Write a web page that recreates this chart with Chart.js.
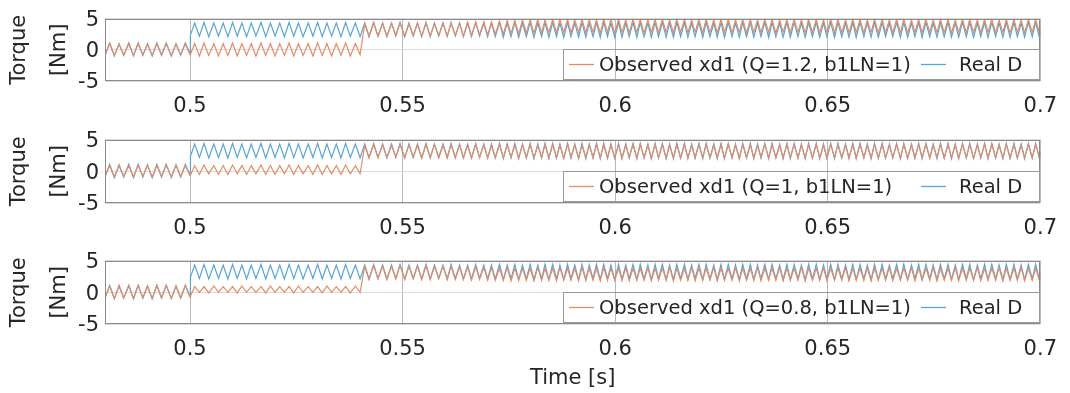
<!DOCTYPE html>
<html>
<head>
<meta charset="utf-8">
<title>Torque observer comparison</title>
<script src="https://cdn.jsdelivr.net/npm/chart.js@4.4.1/dist/chart.umd.min.js"></script>
<style>
  html, body { margin: 0; padding: 0; background: #fff; }
  #wrap { position: relative; width: 1070px; height: 393px; }
  .panel { position: absolute; left: 0; width: 1070px; }
  canvas { display: block; }
</style>
</head>
<body>
<div id="wrap">
  <div class="panel" style="top:0px"><canvas id="c1" width="1070" height="121"></canvas></div>
  <div class="panel" style="top:121px"><canvas id="c2" width="1070" height="121"></canvas></div>
  <div class="panel" style="top:242px"><canvas id="c3" width="1070" height="151"></canvas></div>
</div>
<script>
// vertex times of the ripple [s]
const time = [
  0.4800,0.4811,0.4822,0.4833,0.4844,0.4856,0.4867,0.4878,0.4889,0.4900,
  0.4911,0.4922,0.4933,0.4944,0.4956,0.4967,0.4978,0.4989,0.5000,0.5001,
  0.5011,0.5022,0.5033,0.5044,0.5056,0.5067,0.5078,0.5089,0.5100,0.5111,
  0.5122,0.5133,0.5144,0.5155,0.5167,0.5178,0.5189,0.5200,0.5211,0.5222,
  0.5233,0.5244,0.5255,0.5266,0.5278,0.5289,0.5300,0.5311,0.5322,0.5333,
  0.5344,0.5355,0.5366,0.5377,0.5389,0.5400,
  0.5411,0.5421,0.5432,0.5442,0.5453,0.5463,0.5474,0.5484,0.5494,0.5505,
  0.5515,0.5525,0.5535,0.5545,0.5555,0.5565,0.5575,0.5585,0.5595,0.5605,
  0.5614,0.5624,0.5634,0.5643,0.5653,0.5662,0.5672,0.5681,0.5691,0.5700,
  0.5709,0.5718,0.5728,0.5737,0.5746,0.5755,0.5764,0.5773,0.5782,0.5791,
  0.5800,0.5809,0.5818,0.5827,0.5835,0.5844,0.5853,0.5862,0.5870,0.5879,
  0.5888,0.5896,0.5905,0.5914,0.5922,0.5931,0.5939,0.5948,0.5956,0.5965,
  0.5973,0.5982,0.5990,0.5999,
  0.6008,0.6016,0.6025,0.6033,0.6042,0.6051,0.6059,0.6068,0.6077,0.6085,
  0.6094,0.6102,0.6111,0.6120,0.6128,0.6137,0.6145,0.6154,0.6163,0.6171,
  0.6180,0.6188,0.6197,0.6206,0.6214,0.6223,0.6232,0.6240,0.6249,0.6257,
  0.6266,0.6275,0.6283,0.6292,0.6300,0.6309,0.6318,0.6326,0.6335,0.6343,
  0.6352,0.6361,0.6369,0.6378,0.6387,0.6395,0.6404,0.6412,0.6421,0.6430,
  0.6438,0.6447,0.6455,0.6464,0.6473,0.6481,0.6490,0.6498,0.6507,0.6516,
  0.6524,0.6533,0.6542,0.6550,0.6559,0.6567,0.6576,0.6585,0.6593,0.6602,
  0.6610,0.6619,0.6628,0.6636,0.6645,0.6653,0.6662,0.6671,0.6679,0.6688,
  0.6697,0.6705,0.6714,0.6722,0.6731,0.6740,0.6748,0.6757,0.6765,0.6774,
  0.6783,0.6791,0.6800,0.6808,0.6817,0.6826,0.6834,0.6843,0.6852,0.6860,
  0.6869,0.6877,0.6886,0.6895,0.6903,0.6912,0.6920,0.6929,0.6938,0.6946,
  0.6955,0.6963,0.6972,0.6981,0.6989,0.6998,0.7007
];

// real disturbance torque [Nm] (same in all three panels)
const realD = [
  -0.9,1.1,-1.0,1.0,-0.9,1.1,-1.0,1.1,-0.9,1.0,
  -1.0,1.1,-0.9,1.1,-1.0,1.0,-0.9,1.1,-0.6,2.4,
  4.3,2.2,4.4,2.1,4.3,2.2,4.3,2.1,4.4,2.2,
  4.3,2.1,4.3,2.2,4.4,2.1,4.3,2.2,4.3,2.1,
  4.4,2.2,4.3,2.1,4.3,2.2,4.4,2.1,4.3,2.2,
  4.3,2.1,4.4,2.2,4.3,2.1,
  4.3,2.1,4.4,2.2,4.3,2.1,4.3,2.2,4.4,2.1,
  4.3,2.2,4.3,2.1,4.4,2.1,4.3,2.2,4.3,2.1,
  4.4,2.2,4.3,2.1,4.3,2.1,4.4,2.2,4.3,2.1,
  4.3,2.1,4.4,2.0,4.3,2.1,4.4,2.0,4.3,2.1,
  4.4,2.0,4.3,2.1,4.4,2.0,4.4,2.1,4.3,2.0,
  4.4,2.1,4.3,2.0,4.4,2.0,4.3,2.1,4.4,2.0,
  4.4,2.1,4.3,2.0,
  4.4,2.0,4.3,2.1,4.4,2.0,4.4,2.1,4.3,2.0,
  4.4,2.1,4.4,2.0,4.3,2.0,4.4,2.1,4.4,2.0,
  4.3,2.1,4.4,2.0,4.4,2.1,4.3,2.0,4.4,2.0,
  4.4,2.1,4.3,2.0,4.4,2.1,4.4,2.0,4.3,2.1,
  4.4,2.0,4.4,2.1,4.3,2.0,4.4,2.0,4.4,2.1,
  4.3,2.0,4.4,2.1,4.4,2.0,4.3,2.1,4.4,2.0,
  4.4,2.1,4.3,2.0,4.4,2.0,4.4,2.1,4.3,2.0,
  4.4,2.0,4.4,2.1,4.3,2.1,4.4,2.0,4.4,2.0,
  4.3,2.1,4.4,2.0,4.4,2.1,4.3,2.0,4.4,2.1,
  4.4,2.0,4.3,2.0,4.4,2.1,4.4,2.0,4.3,2.1,
  4.4,2.0,4.4,2.1,4.3,2.0,4.4,2.0,4.4,2.1,
  4.3,2.0,4.4,2.1,4.4,2.0,4.4
];

// observed xd1, Q = 1.2
const obsQ12 = [
  -0.8,1.0,-0.9,0.9,-0.8,1.0,-0.9,1.0,-0.8,0.9,
  -0.9,1.0,-0.8,1.0,-0.9,0.9,-0.8,1.0,-0.8,-0.7,
  1.0,-1.0,1.1,-0.9,1.0,-1.0,1.0,-0.9,1.1,-1.0,
  1.0,-0.9,1.0,-1.0,1.1,-0.9,1.0,-1.0,1.0,-0.9,
  1.1,-1.0,1.0,-0.9,1.0,-1.0,1.1,-0.9,1.0,-1.0,
  1.0,-0.9,1.1,-1.0,1.0,-0.8,
  4.2,2.2,4.3,2.2,4.2,2.2,4.2,2.3,4.3,2.2,
  4.2,2.3,4.3,2.2,4.3,2.2,4.2,2.3,4.3,2.2,
  4.3,2.3,4.3,2.2,4.4,2.3,4.4,2.4,4.5,2.4,
  4.5,2.5,4.6,2.5,4.7,2.6,4.7,2.6,4.8,2.7,
  4.8,2.7,4.9,2.7,4.8,2.8,4.9,2.7,4.9,2.8,
  4.9,2.7,4.8,2.8,4.9,2.7,4.9,2.8,4.8,2.7,
  4.9,2.8,4.9,2.7,
  4.9,2.8,4.8,2.7,4.9,2.8,4.9,2.7,4.8,2.8,
  4.9,2.7,4.9,2.8,4.8,2.7,4.9,2.8,4.9,2.7,
  4.8,2.8,4.9,2.7,4.9,2.8,4.8,2.7,4.9,2.8,
  4.9,2.7,4.8,2.8,4.9,2.7,4.9,2.8,4.8,2.7,
  4.9,2.8,4.9,2.7,4.8,2.8,4.9,2.7,4.9,2.8,
  4.8,2.7,4.9,2.8,4.9,2.7,4.8,2.8,4.9,2.7,
  4.9,2.8,4.8,2.7,4.9,2.8,4.9,2.7,4.8,2.8,
  4.9,2.7,4.9,2.8,4.8,2.7,4.9,2.8,4.9,2.7,
  4.8,2.8,4.9,2.7,4.9,2.8,4.8,2.7,4.9,2.8,
  4.9,2.7,4.8,2.8,4.9,2.7,4.9,2.8,4.8,2.7,
  4.9,2.8,4.9,2.7,4.8,2.8,4.9,2.7,4.9,2.8,
  4.8,2.7,4.9,2.8,4.9,2.7,4.9
];

// observed xd1, Q = 1
const obsQ1 = [
  -0.8,0.9,-0.9,1.0,-0.8,0.9,-0.9,1.0,-0.8,1.0,
  -0.9,0.9,-0.8,1.0,-0.9,1.0,-0.8,0.9,-0.7,-0.6,
  0.9,-0.5,1.0,-0.4,0.9,-0.5,0.9,-0.5,1.0,-0.4,
  0.9,-0.5,0.9,-0.4,1.0,-0.5,0.9,-0.5,0.9,-0.4,
  1.0,-0.5,0.9,-0.4,0.9,-0.5,1.0,-0.5,0.9,-0.4,
  0.9,-0.5,1.0,-0.4,0.9,-0.4,
  4.1,2.2,4.2,2.1,4.2,2.2,4.1,2.2,4.2,2.1,
  4.2,2.2,4.1,2.1,4.2,2.2,4.2,2.1,4.1,2.2,
  4.2,2.1,4.2,2.2,4.1,2.1,4.2,2.2,4.2,2.1,
  4.1,2.2,4.2,2.1,4.2,2.2,4.1,2.1,4.2,2.2,
  4.2,2.1,4.1,2.2,4.2,2.1,4.2,2.2,4.1,2.1,
  4.2,2.2,4.2,2.1,4.1,2.2,4.2,2.1,4.2,2.2,
  4.1,2.1,4.2,2.2,
  4.2,2.1,4.1,2.2,4.2,2.1,4.2,2.2,4.1,2.1,
  4.2,2.2,4.2,2.1,4.1,2.2,4.2,2.1,4.2,2.2,
  4.1,2.1,4.2,2.2,4.2,2.1,4.1,2.2,4.2,2.1,
  4.2,2.2,4.1,2.1,4.2,2.2,4.2,2.1,4.1,2.2,
  4.2,2.1,4.2,2.2,4.1,2.1,4.2,2.2,4.2,2.1,
  4.1,2.2,4.2,2.1,4.2,2.2,4.1,2.1,4.2,2.2,
  4.2,2.1,4.1,2.2,4.2,2.1,4.2,2.2,4.1,2.1,
  4.2,2.2,4.2,2.1,4.1,2.2,4.2,2.1,4.2,2.2,
  4.1,2.1,4.2,2.2,4.2,2.1,4.1,2.2,4.2,2.1,
  4.2,2.2,4.1,2.1,4.2,2.2,4.2,2.1,4.1,2.2,
  4.2,2.1,4.2,2.2,4.1,2.1,4.2,2.2,4.2,2.1,
  4.1,2.2,4.2,2.1,4.2,2.2,4.1
];

// observed xd1, Q = 0.8
const obsQ08 = [
  -0.9,1.0,-1.0,1.1,-0.9,1.0,-1.0,1.1,-0.9,1.0,
  -1.0,1.1,-0.9,1.1,-1.0,1.0,-0.9,1.1,-0.8,-0.6,
  0.9,0.0,0.9,-0.1,1.0,0.0,0.9,0.0,0.9,-0.1,
  1.0,0.0,0.9,0.0,0.9,-0.1,1.0,0.0,0.9,0.0,
  0.9,-0.1,1.0,0.0,0.9,0.0,0.9,-0.1,1.0,0.0,
  0.9,0.0,0.9,-0.1,1.0,0.0,
  4.1,2.0,4.2,2.1,4.1,2.0,4.1,2.1,4.2,2.0,
  4.1,2.1,4.1,2.0,4.2,2.0,4.1,2.1,4.1,2.0,
  4.1,2.0,4.0,2.0,4.0,1.9,4.0,2.0,3.9,1.9,
  3.9,1.9,3.8,1.9,3.9,1.8,3.8,1.9,3.8,1.9,
  3.8,1.8,3.9,1.9,3.8,1.9,3.8,1.8,3.9,1.9,
  3.8,1.9,3.8,1.8,3.9,1.9,3.8,1.9,3.8,1.8,
  3.9,1.9,3.8,1.9,
  3.8,1.9,3.9,1.8,3.8,1.9,3.8,1.9,3.9,1.8,
  3.8,1.9,3.8,1.9,3.9,1.8,3.8,1.9,3.8,1.9,
  3.9,1.8,3.8,1.9,3.8,1.9,3.9,1.8,3.8,1.9,
  3.8,1.9,3.9,1.8,3.8,1.9,3.8,1.9,3.9,1.8,
  3.8,1.9,3.8,1.9,3.9,1.8,3.8,1.9,3.8,1.9,
  3.9,1.8,3.8,1.9,3.8,1.9,3.9,1.8,3.8,1.9,
  3.8,1.9,3.9,1.8,3.8,1.9,3.8,1.9,3.9,1.8,
  3.8,1.9,3.8,1.9,3.9,1.8,3.8,1.9,3.8,1.9,
  3.9,1.8,3.8,1.9,3.8,1.9,3.9,1.8,3.8,1.9,
  3.8,1.9,3.9,1.8,3.8,1.9,3.8,1.9,3.9,1.8,
  3.8,1.9,3.8,1.9,3.9,1.8,3.8,1.9,3.8,1.9,
  3.9,1.8,3.8,1.9,3.8,1.9,3.9
];

const xTicks = [0.5, 0.55, 0.6, 0.65, 0.7];
const yTicks = [-5, 0, 5];
const obsLabels = [
  'Observed xd1 (Q=1.2, b1LN=1)',
  'Observed xd1 (Q=1, b1LN=1)',
  'Observed xd1 (Q=0.8, b1LN=1)'
];
const realLabel = 'Real D';

const FONT = 'DejaVu Sans';
const TEXT = '#262626';
const ORANGE = 'rgb(228,140,104)';
const BLUE = 'rgb(86,166,212)';

Chart.defaults.font.family = FONT;
Chart.defaults.color = TEXT;

// axes box + legend in the lower right corner of the plot
const framePlugin = {
  id: 'frame',
  afterDatasetsDraw(chart, args, opts) {
    const { ctx, chartArea: a } = chart;
    ctx.save();
    const l = Math.round(a.left) + 0.5, r = Math.round(a.right) - 0.5;
    const t = Math.round(a.top) + 0.5, b = Math.round(a.bottom) - 0.5;
    ctx.strokeStyle = '#8a8a8a';
    ctx.lineWidth = 1;
    ctx.strokeRect(l, t, r - l, b - t);

    const bx = 563.5, bw = 476, bh = 30, by = b - bh - 1;
    ctx.strokeStyle = '#9a9a9a';
    ctx.strokeRect(bx, by, bw, bh);
    const cy = by + bh / 2;
    ctx.lineWidth = 1.3;
    ctx.strokeStyle = ORANGE;
    ctx.beginPath(); ctx.moveTo(569, cy); ctx.lineTo(594, cy); ctx.stroke();
    ctx.strokeStyle = BLUE;
    ctx.beginPath(); ctx.moveTo(921, cy); ctx.lineTo(946, cy); ctx.stroke();
    ctx.fillStyle = TEXT;
    ctx.font = '19.5px "DejaVu Sans"';
    ctx.textBaseline = 'middle';
    ctx.fillText(opts.label, 599, cy + 1);
    ctx.fillText(realLabel, 959, cy + 1);
    ctx.restore();
  }
};

function makePanel(id, obs, obsLabel, axisHeight, showTime) {
  const toPoints = ys => time.map((t, i) => ({ x: t, y: ys[i] }));
  return new Chart(document.getElementById(id), {
    type: 'line',
    data: {
      datasets: [
        { label: obsLabel, data: toPoints(obs), borderColor: ORANGE, borderWidth: 1.2, pointRadius: 0 },
        { label: realLabel, data: toPoints(realD), borderColor: BLUE, borderWidth: 1.2, pointRadius: 0 }
      ]
    },
    options: {
      responsive: false,
      animation: false,
      events: [],
      layout: { padding: { top: 14, right: 26, left: 0, bottom: 0 } },
      plugins: {
        legend: { display: false },
        tooltip: { enabled: false },
        frame: { label: obsLabel }
      },
      scales: {
        x: {
          type: 'linear',
          min: 0.48,
          max: 0.7,
          afterBuildTicks: s => { s.ticks = xTicks.map(v => ({ value: v })); },
          afterFit: s => { s.height = axisHeight; },
          ticks: {
            autoSkip: false,
            maxRotation: 0,
            padding: 13,
            font: { size: 21 },
            callback: v => String(v)
          },
          grid: { color: '#b8b8b8', drawTicks: false },
          border: { display: false },
          title: {
            display: showTime,
            text: 'Time [s]',
            font: { size: 21, lineHeight: 1.2 },
            padding: { top: 0, bottom: 2 }
          }
        },
        y: {
          min: -5,
          max: 5,
          afterBuildTicks: s => { s.ticks = yTicks.map(v => ({ value: v })); },
          afterFit: s => { s.width = 105; },
          ticks: { padding: 6, labelOffset: 2, font: { size: 21 } },
          grid: { color: '#dcdcdc', drawTicks: false },
          border: { display: false },
          title: {
            display: true,
            text: ['Torque', '[Nm]'],
            font: { size: 21, lineHeight: '40px' },
            padding: { top: 0, bottom: 0 }
          }
        }
      }
    },
    plugins: [framePlugin]
  });
}

makePanel('c1', obsQ12, obsLabels[0], 40, false);
makePanel('c2', obsQ1, obsLabels[1], 39, false);
makePanel('c3', obsQ08, obsLabels[2], 69, true);
</script>
</body>
</html>
